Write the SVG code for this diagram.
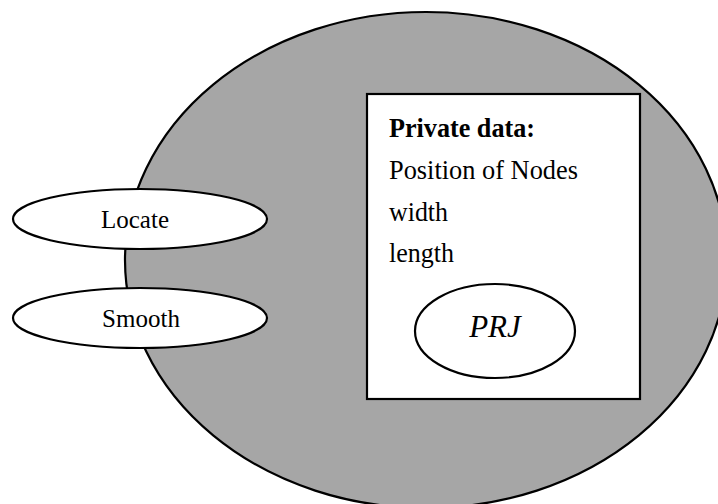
<svg xmlns="http://www.w3.org/2000/svg" width="718" height="504" viewBox="0 0 718 504">
<style>
  .shape { stroke: #000; stroke-width: 2.2; }
  .white { fill: #fff; }
  .t { font-family: "Liberation Serif", "Times New Roman", serif; fill: #000; }
  .label { font-size: 25px; text-anchor: middle; }
  .box { font-size: 27px; }
</style>
<rect x="0" y="0" width="718" height="504" fill="#fff"/>
<g id="object">
  <ellipse class="shape" cx="426" cy="260" rx="301" ry="248" fill="#a6a6a6"/>
</g>
<g id="private-data">
  <rect class="shape white" x="367" y="94" width="273" height="305" stroke-width="2.6"/>
  <text class="t box" x="389" y="137" font-weight="bold" textLength="146" lengthAdjust="spacingAndGlyphs">Private data:</text>
  <text class="t box" x="389" y="179" textLength="189" lengthAdjust="spacingAndGlyphs">Position of Nodes</text>
  <text class="t box" x="389" y="221" textLength="59" lengthAdjust="spacingAndGlyphs">width</text>
  <text class="t box" x="389" y="262" textLength="65" lengthAdjust="spacingAndGlyphs">length</text>
</g>
<g id="prj">
  <ellipse class="shape white" cx="495" cy="331" rx="80" ry="47"/>
  <text class="t" x="495" y="337" font-size="31" font-style="italic" text-anchor="middle">PRJ</text>
</g>
<g id="locate">
  <ellipse class="shape white" cx="140" cy="219" rx="127" ry="30"/>
  <text class="t label" x="135" y="228">Locate</text>
</g>
<g id="smooth">
  <ellipse class="shape white" cx="140" cy="318" rx="127" ry="30"/>
  <text class="t label" x="141" y="327">Smooth</text>
</g>
<g id="connectors"></g>
</svg>
